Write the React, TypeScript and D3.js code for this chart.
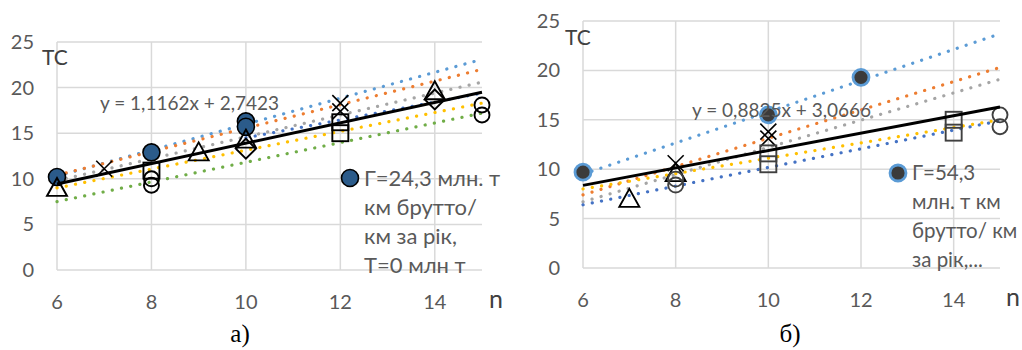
import React from 'react';
import * as d3 from 'd3';

// two panels: a) Г=24,3 and б) Г=54,3 (TC vs n)

const xTicks = [6, 8, 10, 12, 14];
const yTicks = [0, 5, 10, 15, 20, 25];

type Pt = [number, number];
type Series = { shape: string; points: Pt[]; trend: [Pt, Pt] | null; trendColor: string };

// panel a
const seriesA: Series[] = [
  { shape: 'dot', points: [[6, 10.2], [8, 12.9], [10, 16.3], [10, 15.7]], trend: [[6, 10.3], [15, 23.1]], trendColor: '#5B9BD5' },
  { shape: 'x', points: [[7, 11.1], [12, 18.3], [12, 17.4]], trend: [[6, 10.4], [15, 22.0]], trendColor: '#ED7D31' },
  { shape: 'tri', points: [[6, 9.0], [9, 12.9], [10, 14.3], [14, 19.6]], trend: [[6, 9.8], [15, 20.6]], trendColor: '#A5A5A5' },
  { shape: 'diamond', points: [[10, 13.3], [14, 18.7]], trend: [[10, 14.5], [15, 19.4]], trendColor: '#4472C4' },
  { shape: 'square', points: [[8, 10.9], [12, 16.2], [12, 15.0]], trend: [[6, 9.0], [15, 18.3]], trendColor: '#FFC000' },
  { shape: 'ring', points: [[8, 10.0], [8, 9.3], [15, 18.1], [15, 17.0]], trend: [[6, 7.5], [15, 17.2]], trendColor: '#70AD47' },
];
const totalA = { slope: 1.1162, intercept: 2.7423, label: 'y = 1,1162x + 2,7423' };
const legendA = ['Г=24,3 млн. т', 'км брутто/', 'км за рік,', 'T=0 млн т'];

// panel b
const seriesB: Series[] = [
  { shape: 'dotB', points: [[6, 9.7], [10, 15.5], [12, 19.3]], trend: [[6, 9.5], [15, 23.7]], trendColor: '#5B9BD5' },
  { shape: 'x', points: [[8, 10.6], [10, 13.8], [10, 13.1]], trend: [[6, 7.4], [15, 20.3]], trendColor: '#ED7D31' },
  { shape: 'tri', points: [[7, 7.0], [8, 9.6]], trend: [[6, 6.7], [15, 19.1]], trendColor: '#A5A5A5' },
  { shape: 'squareB', points: [[10, 11.6], [10, 10.5], [14, 15.0], [14, 13.7]], trend: [[6, 8.0], [15, 15.0]], trendColor: '#FFC000' },
  { shape: 'ringB', points: [[8, 9.0], [8, 8.4], [15, 15.5], [15, 14.3]], trend: [[6, 6.4], [15, 14.9]], trendColor: '#4472C4' },
];
const totalB = { slope: 0.8825, intercept: 3.0666, label: 'y = 0,8825x + 3,0666' };
const legendB = ['Г=54,3', 'млн. т км', 'брутто/ км', 'за рік,...'];

const font = 'Lato, "Open Sans", sans-serif';
const grey = '#595959';

function Marker({ shape, x, y }: { shape: string; x: number; y: number }) {
  if (shape === 'dot') return <circle cx={x} cy={y} r={8.5} fill="#2B5B8A" stroke="#000" strokeWidth={1.6} />;
  if (shape === 'dotB') return <circle cx={x} cy={y} r={8} fill="#3B3B3B" stroke="#5B9BD5" strokeWidth={2.8} />;
  if (shape === 'x')
    return (
      <path d={`M${x - 8},${y - 8}L${x + 8},${y + 8}M${x - 8},${y + 8}L${x + 8},${y - 8}`} stroke="#000" strokeWidth={1.6} />
    );
  if (shape === 'tri')
    return <path d={`M${x},${y - 10}L${x + 10},${y + 8}L${x - 10},${y + 8}Z`} fill="none" stroke="#000" strokeWidth={1.9} />;
  if (shape === 'diamond')
    return <path d={`M${x},${y - 10}L${x + 10},${y}L${x},${y + 10}L${x - 10},${y}Z`} fill="none" stroke="#000" strokeWidth={1.9} />;
  if (shape === 'square' || shape === 'squareB')
    return (
      <rect x={x - 8} y={y - 8} width={16} height={16} fill="none"
        stroke={shape === 'square' ? '#000' : '#404040'} strokeWidth={1.9} />
    );
  // rings
  return <circle cx={x} cy={y} r={7.5} fill="none" stroke={shape === 'ring' ? '#000' : '#404040'} strokeWidth={1.9} />;
}

type PanelProps = {
  series: Series[];
  total: { slope: number; intercept: number; label: string };
  legend: string[];
  x0: number; x1: number; y0: number; y1: number;
  eq: [number, number];
  leg: [number, number];
  tc: [number, number];
  caption: string;
  capX: number;
  nX: number;
  legendShape: string;
  lineGap: number;
  legendSize: number;
};

function Panel(p: PanelProps) {
  const x = d3.scaleLinear().domain([6, 15]).range([p.x0, p.x1]);
  const y = d3.scaleLinear().domain([0, 25]).range([p.y0, p.y1]);
  const line = d3.line<Pt>().x((d) => x(d[0])).y((d) => y(d[1]));
  const t = p.total;
  return (
    <g fontFamily={font}>
      {/* grid */}
      {yTicks.map((v) => (
        <line key={'h' + v} x1={p.x0} x2={p.x1} y1={y(v)} y2={y(v)} stroke="#D9D9D9" strokeWidth={1.5} />
      ))}
      {[...xTicks].map((v) => (
        <line key={'v' + v} x1={x(v)} x2={x(v)} y1={p.y0} y2={p.y1} stroke="#D9D9D9" strokeWidth={1.5} />
      ))}
      {yTicks.map((v) => (
        <text key={'yl' + v} x={p.x0 - 23} y={y(v)} dy="0.35em" textAnchor="end" fontSize={20} fill={grey}>{v}</text>
      ))}
      {xTicks.map((v) => (
        <text key={'xl' + v} x={x(v)} y={p.y0 + 32} dy="0.35em" textAnchor="middle" fontSize={20} fill={grey}>{v}</text>
      ))}
      <text x={p.nX} y={p.y0 + 29} dy="0.35em" fontSize={25} fill="#404040">n</text>
      <text x={p.tc[0]} y={p.tc[1]} dy="0.35em" fontSize={21} fill="#404040">TC</text>
      {/* trend lines */}
      {p.series.map((s, i) =>
        s.trend ? (
          <path key={'t' + i} d={line(s.trend) || ''} fill="none" stroke={s.trendColor} strokeWidth={3.2}
            strokeDasharray="0.1 9.3" strokeLinecap="round" />
        ) : null
      )}
      {/* markers */}
      {p.series.map((s, i) =>
        s.points.map((d, j) => <Marker key={i + '-' + j} shape={s.shape} x={x(d[0])} y={y(d[1])} />)
      )}
      <path d={line([[6, t.slope * 6 + t.intercept], [15, t.slope * 15 + t.intercept]]) || ''}
        stroke="#000" strokeWidth={3} fill="none" />
      <text x={p.eq[0]} y={p.eq[1]} dy="0.35em" fontSize={19} fill={grey}>{t.label}</text>
      {/* legend */}
      <Marker shape={p.legendShape} x={p.leg[0]} y={p.leg[1]} />
      {p.legend.map((l, i) => (
        <text key={'lg' + i} x={p.leg[0] + 14} y={p.leg[1] + i * p.lineGap} dy="0.35em" fontSize={p.legendSize} fill={grey}>{l}</text>
      ))}
      <text x={p.capX} y={333} dy="0.35em" textAnchor="middle" fontSize={25} fontFamily='"Liberation Serif", serif' fill="#000">
        {p.caption}
      </text>
    </g>
  );
}

export default function App() {
  return (
    <svg width={1022} height={350} style={{ position: 'absolute', left: 0, top: 0, background: '#fff' }}>
      <Panel series={seriesA} total={totalA} legend={legendA}
        x0={57} x1={482} y0={270} y1={42} eq={[100, 103]} leg={[350, 178]} tc={[42, 58]}
        caption="а)" capX={240} nX={489} legendShape="dot" lineGap={29} legendSize={22} />
      <Panel series={seriesB} total={totalB} legend={legendB}
        x0={583} x1={1000} y0={268} y1={21} eq={[692, 110]} leg={[898, 173]} tc={[565, 38]}
        caption="б)" capX={790} nX={1006} legendShape="dotB" lineGap={29} legendSize={20.5} />
    </svg>
  );
}
